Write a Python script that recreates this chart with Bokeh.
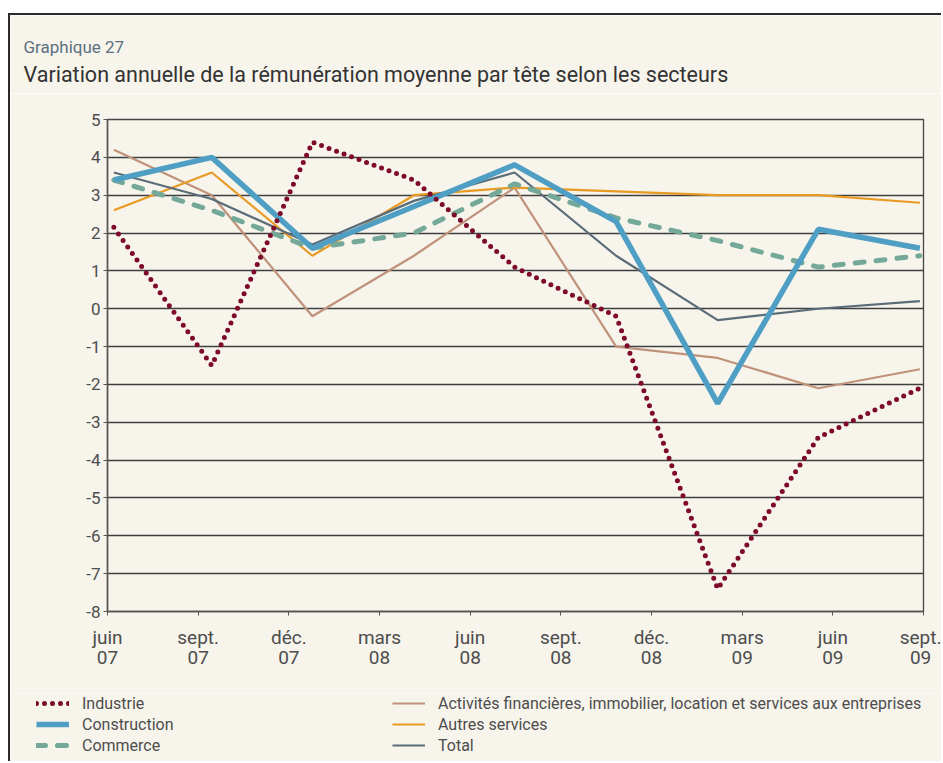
from bokeh.plotting import figure
from bokeh.layouts import column
from bokeh.models import Range1d, FixedTicker, Legend, LegendItem, Label
from bokeh.embed import file_html
from bokeh.resources import INLINE

# ---- data ----
tick_labels = ["juin\n07", "sept.\n07", "déc.\n07", "mars\n08", "juin\n08",
               "sept.\n08", "déc.\n08", "mars\n09", "juin\n09", "sept.\n09"]
y_ticks = [-8, -7, -6, -5, -4, -3, -2, -1, 0, 1, 2, 3, 4, 5]
x_pos = [0.07, 1.15, 2.26, 3.38, 4.49, 5.61, 6.73, 7.84, 8.96]

industrie = [2.15, -1.5, 4.4, 3.4, 1.1, -0.2, -7.4, -3.4, -2.1]
construction = [3.4, 4.0, 1.6, 2.7, 3.8, 2.3, -2.5, 2.1, 1.6]
commerce = [3.4, 2.6, 1.6, 2.0, 3.3, 2.4, 1.8, 1.1, 1.4]
activites = [4.2, 3.0, -0.2, 1.4, 3.2, -1.0, -1.3, -2.1, -1.6]
autres = [2.6, 3.6, 1.4, 3.0, 3.2, 3.1, 3.0, 3.0, 2.8]
total = [3.6, 2.9, 1.7, 2.85, 3.6, 1.4, -0.3, 0.0, 0.2]

names = ["Industrie", "Construction", "Commerce",
         "Activités financières, immobilier, location et services aux entreprises",
         "Autres services", "Total"]
chart_number = "Graphique 27"
chart_title = "Variation annuelle de la rémunération moyenne par tête selon les secteurs"

BG = "#F7F4EC"
FONT = "Roboto"
TXT = "#4d4d4d"
FRAME = "2px solid #2b2b2b"
W = 933

styles = [
    dict(color="#7D0A2B", width=5, dash="0 8", cap="round"),
    dict(color="#4F9EC4", width=5.5, dash="solid", cap="butt"),
    dict(color="#74A999", width=5, dash="9 12", cap="round"),
    dict(color="#C0927A", width=2.2, dash="solid", cap="butt"),
    dict(color="#E99A23", width=2.2, dash="solid", cap="butt"),
    dict(color="#5A6C78", width=2.2, dash="solid", cap="butt"),
]
series = [industrie, construction, commerce, activites, autres, total]


def blank(height):
    f = figure(width=W, height=height, output_backend="svg", toolbar_location=None,
               x_range=Range1d(0, 1), y_range=Range1d(0, 1),
               x_axis_location=None, y_axis_location=None, title_location=None,
               min_border=0, min_border_left=0, min_border_right=0,
               min_border_top=0, min_border_bottom=0)
    f.frame_align = False
    f.grid.visible = False
    f.background_fill_color = BG
    f.border_fill_color = BG
    f.outline_line_color = None
    return f


# header with titles
hf = blank(80)
hf.margin = (13, 0, 0, 8)
hf.styles = {"border-top": FRAME, "border-left": FRAME}
hf.add_layout(Label(x=13, y=49, x_units="screen", y_units="screen", text=chart_number,
                    text_font=FONT, text_font_size="17px", text_color="#5C7080",
                    text_baseline="alphabetic"))
hf.add_layout(Label(x=13, y=21, x_units="screen", y_units="screen", text=chart_title,
                    text_font=FONT, text_font_size="21.5px", text_color="#333333",
                    text_baseline="alphabetic"))

# main chart
p = figure(width=W, height=600, output_backend="svg", toolbar_location=None,
           x_range=Range1d(0, 9), y_range=Range1d(-8, 5),
           min_border_left=97, min_border_right=20, min_border_top=26, min_border_bottom=82)
p.frame_align = False
p.margin = (0, 0, 0, 8)
p.styles = {"border-left": FRAME}
p.background_fill_color = BG
p.border_fill_color = BG
p.outline_line_color = "#444444"
p.outline_line_width = 1.3

p.xaxis.ticker = FixedTicker(ticks=list(range(10)))
p.xaxis.major_label_overrides = {i: lab for i, lab in enumerate(tick_labels)}
p.yaxis.ticker = FixedTicker(ticks=y_ticks)
p.yaxis.major_label_overrides = {v: str(v) for v in y_ticks}
for ax in (p.xaxis, p.yaxis):
    ax.axis_line_color = "#555555"
    ax.axis_line_width = 1.5
    ax.major_tick_line_color = "#555555"
    ax.major_tick_in = 0
    ax.major_tick_out = 4
    ax.minor_tick_line_color = None
    ax.major_label_text_font = FONT
    ax.major_label_text_color = TXT
p.xaxis.major_label_text_font_size = "19px"
p.xaxis.major_label_text_line_height = 0.9
p.xaxis.major_label_standoff = 10
p.yaxis.major_label_text_font_size = "17px"
p.yaxis.major_label_standoff = 3

p.xgrid.grid_line_color = None
p.ygrid.grid_line_color = "#3f3f3f"
p.ygrid.grid_line_width = 1.3

for i in [3, 4, 5, 2, 1, 0]:
    s = styles[i]
    p.line(x_pos, series[i], line_color=s["color"], line_width=s["width"],
           line_dash=s["dash"], line_cap=s["cap"])

# legend strip
lf = blank(68)
lf.margin = (0, 0, 0, 8)
lf.styles = {"border-left": FRAME}
items = []
for i, s in enumerate(styles):
    r = lf.line([2, 3], [2, 3], line_color=s["color"], line_width=s["width"],
                line_dash=s["dash"], line_cap=s["cap"])
    items.append(LegendItem(label=names[i], renderers=[r]))

legend = Legend(items=items, location=(26, 6), nrows=3)
legend.background_fill_alpha = 0
legend.border_line_color = None
legend.padding = 0
legend.margin = 0
legend.spacing = 1
legend.glyph_width = 33
legend.glyph_height = 20
legend.label_height = 20
legend.label_width = 309
legend.label_standoff = 13
legend.label_text_font = FONT
legend.label_text_font_size = "16px"
legend.label_text_color = TXT
lf.add_layout(legend, "center")

layout = column(hf, p, lf, spacing=0)
open("out.html", "w").write(file_html(layout, INLINE))
